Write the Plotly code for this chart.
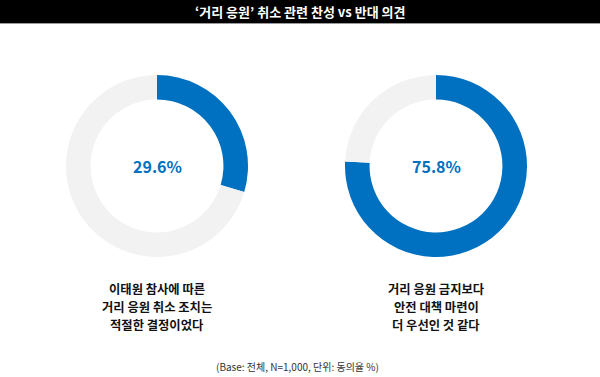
import plotly.graph_objects as go

title = "‘거리 응원’ 취소 관련 찬성 vs 반대 의견"
labels_a = ["동의", "비동의"]
values_left = [29.6, 70.4]
values_right = [75.8, 24.2]
center_texts = ["29.6%", "75.8%"]
captions = [["이태원 참사에 따른", "거리 응원 취소 조치는", "적절한 결정이었다"],
            ["거리 응원 금지보다", "안전 대책 마련이", "더 우선인 것 같다"]]
footnote = "(Base: 전체, N=1,000, 단위: 동의율 %)"

W, H = 600, 377
BLUE = "#0070C0"
GRAY = "#F2F2F2"
FONT = "Noto Sans CJK KR"

centers = [(157, 166), (436, 166)]
R = 91
caption_rows = [289, 307, 325]

fig = go.Figure()
for vals, (cx, cy) in zip([values_left, values_right], centers):
    fig.add_trace(go.Pie(
        labels=labels_a, values=vals, hole=0.73, sort=False,
        direction="clockwise", rotation=0,
        marker=dict(colors=[BLUE, GRAY], line=dict(width=0)),
        textinfo="none", hoverinfo="label+value", showlegend=False,
        domain=dict(x=[(cx - R) / W, (cx + R) / W],
                    y=[1 - (cy + R) / H, 1 - (cy - R) / H]),
    ))

annotations = []
for txt, (cx, cy) in zip(center_texts, centers):
    annotations.append(dict(x=cx / W, y=1 - cy / H, xref="paper", yref="paper",
                            text=f"<b>{txt}</b>", showarrow=False,
                            xanchor="center", yanchor="middle",
                            font=dict(family=FONT, size=16, color=BLUE)))
for lines, (cx, cy) in zip(captions, centers):
    for line, ry in zip(lines, caption_rows):
        annotations.append(dict(x=cx / W, y=1 - ry / H, xref="paper", yref="paper",
                                text=f"<b>{line}</b>", showarrow=False,
                                xanchor="center", yanchor="middle",
                                borderpad=0,
                                font=dict(family=FONT, size=12.3, color="#111111")))
annotations.append(dict(x=297 / W, y=1 - 366 / H, xref="paper", yref="paper",
                        text=footnote, showarrow=False,
                        xanchor="center", yanchor="middle",
                        font=dict(family=FONT, size=10, color="#333333")))
annotations.append(dict(x=0.5, y=1 - 11.5 / H, xref="paper", yref="paper",
                        text=f"<b>{title}</b>", showarrow=False,
                        xanchor="center", yanchor="middle",
                        font=dict(family=FONT, size=13, color="white")))

shapes = [
    dict(type="rect", xref="paper", yref="paper", x0=0, x1=1,
         y0=1 - 23 / H, y1=1, fillcolor="black", line=dict(width=0), layer="below"),
    dict(type="line", xref="paper", yref="paper", x0=0, x1=1,
         y0=1 - 23.5 / H, y1=1 - 23.5 / H, line=dict(color="#9A9A9A", width=1)),
]

fig.update_layout(
    width=W, height=H, margin=dict(l=0, r=0, t=0, b=0),
    paper_bgcolor="white", plot_bgcolor="white",
    annotations=annotations, shapes=shapes,
    font=dict(family=FONT),
)

fig.write_html("out.html", config={"displayModeBar": False},
               post_script="document.body.style.margin='0';document.body.style.overflow='hidden';")
